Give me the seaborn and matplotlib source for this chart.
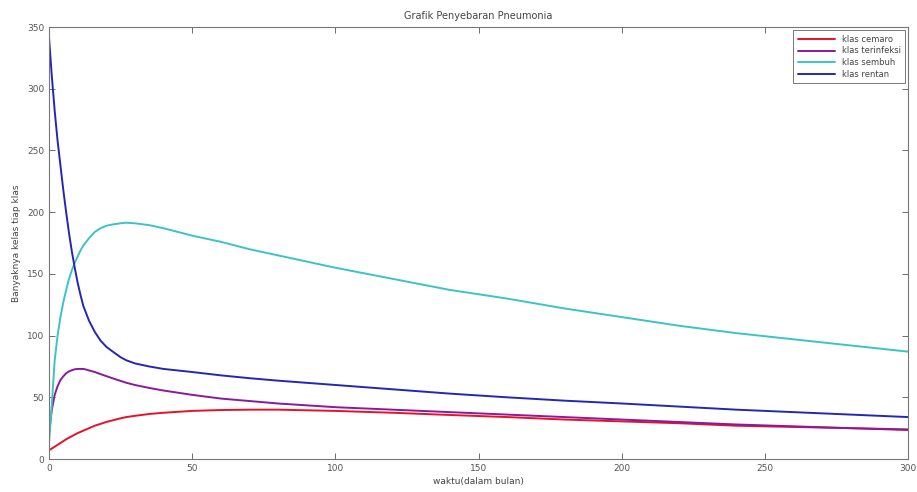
import pandas as pd
import matplotlib
matplotlib.use("Agg")
import matplotlib.pyplot as plt
import seaborn as sns

# Data
waktu = [0, 1, 2, 3, 4, 5, 6, 7, 8, 9, 10, 11, 12, 13, 14, 16, 18, 20, 22, 25,
         27, 30, 35, 40, 50, 60, 70, 80, 100, 120, 140, 160, 180, 200, 220,
         240, 260, 280, 300]

klas_cemaro = [7, 8.5, 10, 11.5, 13, 14.5, 16, 17.3, 18.5, 19.8, 21, 22, 23,
               24, 25, 27, 28.5, 30, 31.2, 33, 34, 35, 36.5, 37.5, 39, 39.7,
               40, 40, 39, 37.5, 35.7, 34, 32, 30.5, 29, 27, 26, 25, 23.5]
klas_terinfeksi = [20, 40, 52, 59, 64, 67, 69.5, 71, 72, 72.7, 73, 73, 73,
                   72.5, 71.8, 70.5, 68.8, 67.2, 65.6, 63.3, 61.8, 60, 57.6,
                   55.5, 52, 49, 47, 45, 42, 40, 38, 36, 34, 32, 30, 28, 26.5,
                   25, 24]
klas_sembuh = [12, 45, 80, 100, 115, 127, 137, 146, 153, 159, 164, 169, 173,
               176, 179, 184, 187, 189, 190, 191, 191.5, 191, 189.5, 187, 181,
               176, 170, 165, 155, 146, 137, 130, 122, 115, 108, 102, 97, 92,
               87]
klas_rentan = [342, 310, 282, 258, 238, 218, 200, 183, 168, 155, 143, 133,
               124, 118, 112, 103, 96, 91, 87.5, 82.5, 80, 77.5, 75, 73, 70.5,
               67.8, 65.5, 63.5, 60, 56.5, 53, 50, 47.3, 45, 42.5, 40, 38, 36,
               34]

labels = ["klas cemaro", "klas terinfeksi", "klas sembuh", "klas rentan"]
warna = ["#e8102a", "#8a1a9a", "#3cc4c4", "#2626b4"]

df = pd.concat([
    pd.DataFrame({"waktu": waktu, "nilai": vals, "klas": lab})
    for vals, lab in zip([klas_cemaro, klas_terinfeksi, klas_sembuh, klas_rentan], labels)
])

sns.set_style("white", {"xtick.direction": "in", "ytick.direction": "in"})

fig = plt.figure(figsize=(9.17, 4.92), dpi=100)
ax = fig.add_axes([0.0534, 0.067, 0.937, 0.878])

sns.lineplot(data=df, x="waktu", y="nilai", hue="klas", hue_order=labels,
             palette=warna, linewidth=1.4, ax=ax)

ax.set_xlim(0, 300)
ax.set_ylim(0, 350)
ax.set_xticks(range(0, 301, 50))
ax.set_yticks(range(0, 351, 50))
ax.tick_params(labelsize=6.5, colors="#555555", length=4, width=0.6,
               top=True, right=True, bottom=True, left=True)
for s in ax.spines.values():
    s.set_color("#777777")
    s.set_linewidth(0.8)

ax.set_title("Grafik Penyebaran Pneumonia", fontsize=7, color="#444444", pad=6)
ax.set_xlabel("waktu(dalam bulan)", fontsize=6.5, color="#444444", labelpad=3)
ax.set_ylabel("Banyaknya kelas tiap klas", fontsize=6.5, color="#444444", labelpad=4)

leg = ax.legend(loc="upper right", fontsize=6, frameon=True, fancybox=False,
                edgecolor="#555555", borderpad=0.5, handlelength=4.5,
                labelspacing=0.35, borderaxespad=0.4)
leg.get_frame().set_linewidth(0.7)
for t in leg.get_texts():
    t.set_color("#444444")

plt.savefig("out.png", dpi=100)
plt.close()
